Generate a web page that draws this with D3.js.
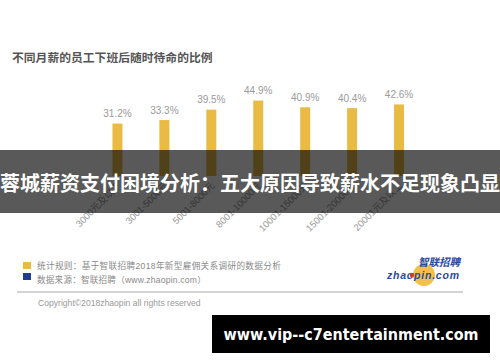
<!DOCTYPE html>
<html lang="zh">
<head>
<meta charset="UTF-8">
<title>不同月薪的员工下班后随时待命的比例</title>
<script src="https://d3js.org/d3.v7.min.js"></script>
<style>
  body { margin: 0; background: #fff; }
  svg { display: block; font-family: "Liberation Sans", "Noto Sans CJK SC", sans-serif; }
  .bar { fill: #e9bb45; }
  .val { fill: #9a9a9a; font-size: 10px; text-anchor: middle; }
  .tick text { fill: #9a9a9a; font-size: 9.5px; }
  .note { fill: #8a8a8a; font-size: 8.6px; }
</style>
</head>
<body>
<svg width="500" height="362"></svg>
<script>
  // data
  const categories = ["3000元及以下", "3001-5000元", "5001-8000元", "8001-10000元",
                      "10001-15000元", "15001-20000元", "20001元及以上"];
  const values = [31.2, 33.3, 39.5, 44.9, 40.9, 40.4, 42.6];
  const notes = ["统计规则：基于智联招聘2018年新型雇佣关系调研的数据分析",
                 "数据来源：智联招聘（www.zhaopin.com）"];
  const noteColors = ["#e9bb45", "#1f3f8c"];

  const svg = d3.select("svg");

  // title
  svg.append("text")
    .attr("x", 12).attr("y", 62)
    .attr("fill", "#555").attr("font-size", "11.8px").attr("font-weight", "bold")
    .attr("font-family", "Noto Sans CJK SC")
    .text("不同月薪的员工下班后随时待命的比例");

  // scales
  const x = d3.scaleBand()
    .domain(categories)
    .range([94, 422.5])
    .paddingInner(0.787)
    .paddingOuter(0.3935);

  const y = d3.scaleLinear()
    .domain([0, 50])
    .range([176, 92]);

  const g = svg.append("g");

  g.selectAll(".bar")
    .data(values)
    .enter().append("rect")
      .attr("class", "bar")
      .attr("x", (d, i) => x(categories[i]))
      .attr("y", d => y(d))
      .attr("width", x.bandwidth())
      .attr("height", d => y(0) - y(d));

  g.selectAll(".val")
    .data(values)
    .enter().append("text")
      .attr("class", "val")
      .attr("x", (d, i) => x(categories[i]) + x.bandwidth() / 2)
      .attr("y", d => y(d) - 6.5)
      .text(d => d.toFixed(1) + "%");

  // x axis, rotated labels
  const xAxis = g.append("g")
    .attr("transform", "translate(0," + (y(0) + 8) + ")")
    .call(d3.axisBottom(x).tickSize(0).tickPadding(0));
  xAxis.select(".domain").remove();
  xAxis.selectAll(".tick text")
    .attr("font-family", "Liberation Sans, Noto Sans CJK SC")
    .attr("text-anchor", "end")
    .attr("dy", "0")
    .attr("y", 0)
    .attr("transform", "translate(4,2) rotate(-45)");

  // legend / notes
  const lg = svg.append("g");
  notes.forEach(function(t, i) {
    lg.append("rect")
      .attr("x", 23).attr("y", 262 + i * 11)
      .attr("width", 8).attr("height", 7)
      .attr("fill", noteColors[i]);
    lg.append("text")
      .attr("class", "note")
      .attr("x", 37).attr("y", 269 + i * 14)
      .attr("letter-spacing", i === 0 ? "0.35px" : "0.2px")
      .text(t);
  });

  svg.append("line")
    .attr("x1", 17).attr("x2", 463)
    .attr("y1", 292).attr("y2", 292)
    .attr("stroke", "#c6c6c6").attr("stroke-width", 1.5);

  svg.append("text")
    .attr("x", 38).attr("y", 306)
    .attr("fill", "#9a9a9a").attr("font-size", "8.6px")
    .text("Copyright©2018zhaopin all rights reserved");

  // logo
  const logo = svg.append("g");
  logo.append("circle").attr("cx", 424).attr("cy", 275).attr("r", 11).attr("fill", "#f2c14a");
  logo.append("text")
    .attr("x", 418).attr("y", 266)
    .attr("fill", "#2a4a9c").attr("font-size", "10.5px").attr("font-weight", "bold")
    .attr("font-style", "italic").attr("font-family", "Noto Sans CJK SC")
    .text("智联招聘");
  logo.append("text")
    .attr("x", 387).attr("y", 278.5)
    .attr("fill", "#2a4a9c").attr("font-size", "10.5px").attr("font-weight", "bold")
    .attr("font-style", "italic")
    .attr("textLength", 72)
    .text("zhaopin.com");
  logo.append("circle").attr("cx", 412).attr("cy", 275).attr("r", 2.3).attr("fill", "#d9362b");

  // overlay banner
  svg.append("rect")
    .attr("x", 0).attr("y", 150).attr("width", 500).attr("height", 63)
    .attr("fill", "rgba(0,0,0,0.65)");
  svg.append("text")
    .attr("x", 250).attr("y", 191)
    .attr("text-anchor", "middle")
    .attr("fill", "#fff").attr("font-size", "20px").attr("font-weight", "bold")
    .attr("font-family", "Noto Sans CJK SC")
    .text("蓉城薪资支付困境分析：五大原因导致薪水不足现象凸显");

  // watermark box
  svg.append("rect")
    .attr("x", 212).attr("y", 315).attr("width", 278).attr("height", 38)
    .attr("fill", "#000");
  svg.append("text")
    .attr("x", 351).attr("y", 340)
    .attr("text-anchor", "middle")
    .attr("fill", "#fff").attr("font-size", "15px").attr("font-weight", "bold")
    .attr("font-family", "DejaVu Sans")
    .attr("textLength", 255)
    .attr("lengthAdjust", "spacingAndGlyphs")
    .text("www.vip--c7entertainment.com");
</script>
</body>
</html>
